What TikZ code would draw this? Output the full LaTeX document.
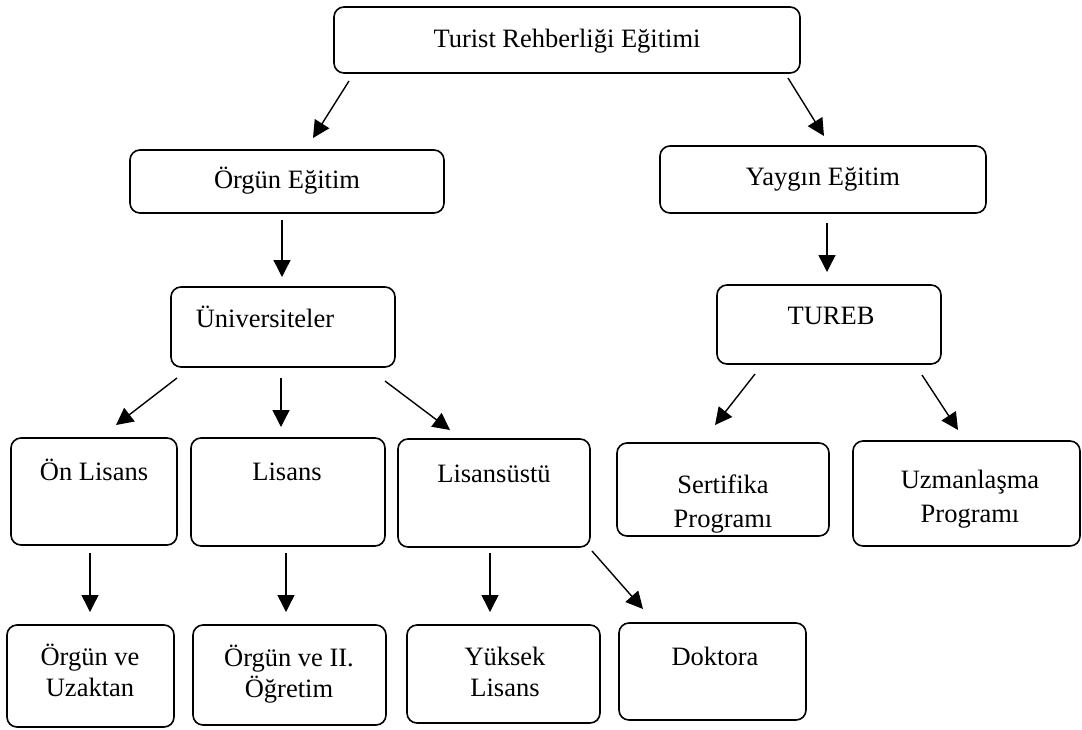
\documentclass[tikz,border=0pt]{standalone}
\usepackage{fontspec}
\setmainfont{Liberation Serif}
\usetikzlibrary{arrows.meta}
\begin{document}
\begin{tikzpicture}[x=1pt,y=-1pt,
  box/.style={draw, line width=1.6pt, rounded corners=10pt, inner sep=0pt, outer sep=0pt},
  txt/.style={font=\fontsize{26.5}{31}\selectfont, inner sep=0pt, anchor=base},
  txtm/.style={font=\fontsize{26.5}{31}\selectfont, inner sep=0pt, align=center, anchor=center},
  txtw/.style={font=\fontsize{26.5}{34}\selectfont, inner sep=0pt, align=center, anchor=center},
  arr/.style={line width=1.4pt, -{Triangle[length=17pt,width=17pt]}}]
\useasboundingbox (0,0) rectangle (1082,729);
% boxes
\node[box, minimum width=466pt, minimum height=66pt] (top) at (567,40) {};
\node[box, minimum width=314pt, minimum height=63pt] (org) at (287,181.5) {};
\node[box, minimum width=326pt, minimum height=67pt] (yay) at (823,179.5) {};
\node[box, minimum width=224pt, minimum height=80pt] (uni) at (283,327) {};
\node[box, minimum width=224pt, minimum height=79pt] (tureb) at (829,324.5) {};
\node[box, minimum width=166pt, minimum height=107pt] (onl) at (94,491.5) {};
\node[box, minimum width=194pt, minimum height=108pt] (lis) at (288,492) {};
\node[box, minimum width=192pt, minimum height=108pt] (lisu) at (494,493) {};
\node[box, minimum width=212pt, minimum height=93pt] (sert) at (723,489.5) {};
\node[box, minimum width=227pt, minimum height=105pt] (uzm) at (966.5,493.5) {};
\node[box, minimum width=167pt, minimum height=102pt] (ouz) at (90.5,676) {};
\node[box, minimum width=193pt, minimum height=100pt] (oii) at (289.5,675) {};
\node[box, minimum width=193pt, minimum height=98pt] (yl) at (503.5,674) {};
\node[box, minimum width=187pt, minimum height=97pt] (dok) at (712.5,671.5) {};
% labels
\node[txt] (ttop) at (567,47) {Turist Rehberliği Eğitimi};
\node[txt] (torg) at (287,188) {Örgün Eğitim};
\node[txt] (tyay) at (823,185) {Yaygın Eğitim};
\node[txt] (tuni) at (265,327) {Üniversiteler};
\node[txt] (ttureb) at (831,324) {TUREB};
\node[txt] (tonl) at (94,480) {Ön Lisans};
\node[txt] (tlis) at (287,480) {Lisans};
\node[txt] (tlisu) at (494,482) {Lisansüstü};
\node[txt] (tdok) at (715,665) {Doktora};
\node[txtw] (tsert) at (723,504) {Sertifika\\Programı};
\node[txtw] (tuzm) at (970,499) {Uzmanlaşma\\Programı};
\node[txtm] (touz) at (90,670.5) {Örgün ve\\Uzaktan};
\node[txtm] (toii) at (289,674.5) {Örgün ve II.\\Öğretim};
\node[txtm] (tyl) at (505,672) {Yüksek\\Lisans};
% connector end points
\coordinate (c1s) at (349,81);  \coordinate (c1e) at (313,138);
\coordinate (c2s) at (788,78);  \coordinate (c2e) at (824,136);
\coordinate (c3s) at (282,220); \coordinate (c3e) at (282,277);
\coordinate (c4s) at (827,223); \coordinate (c4e) at (827,272);
\coordinate (c5s) at (177,378); \coordinate (c5e) at (116,425);
\coordinate (c6s) at (281,378); \coordinate (c6e) at (281,427);
\coordinate (c7s) at (385,381); \coordinate (c7e) at (450,430);
\coordinate (c8s) at (755,374); \coordinate (c8e) at (715,425);
\coordinate (c9s) at (922,375); \coordinate (c9e) at (958,430);
\coordinate (c10s) at (90,553);  \coordinate (c10e) at (90,612);
\coordinate (c11s) at (286,553); \coordinate (c11e) at (286,612);
\coordinate (c12s) at (490,553); \coordinate (c12e) at (490,612);
\coordinate (c13s) at (592,551); \coordinate (c13e) at (643,609);
% connectors
\draw[arr] (c1s) -- (c1e);
\draw[arr] (c2s) -- (c2e);
\draw[arr] (c3s) -- (c3e);
\draw[arr] (c4s) -- (c4e);
\draw[arr] (c5s) -- (c5e);
\draw[arr] (c6s) -- (c6e);
\draw[arr] (c7s) -- (c7e);
\draw[arr] (c8s) -- (c8e);
\draw[arr] (c9s) -- (c9e);
\draw[arr] (c10s) -- (c10e);
\draw[arr] (c11s) -- (c11e);
\draw[arr] (c12s) -- (c12e);
\draw[arr] (c13s) -- (c13e);
\end{tikzpicture}
\end{document}
